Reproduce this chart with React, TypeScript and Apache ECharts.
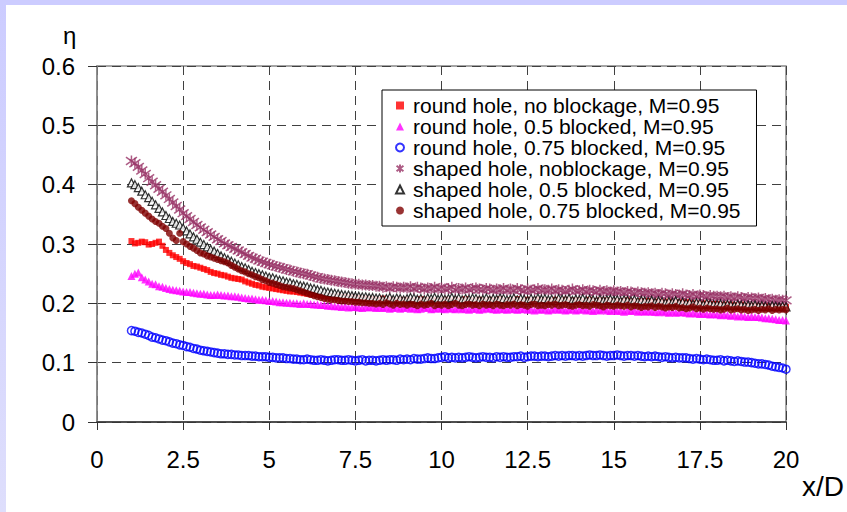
import React, { useEffect, useRef } from "react";
import * as echarts from "echarts";

const xPositions = [
  1.0, 1.1, 1.2, 1.3, 1.4, 1.5, 1.6, 1.7, 1.8, 1.9,
  2.0, 2.1, 2.2, 2.3, 2.4, 2.5, 2.6, 2.7, 2.8, 2.9,
  3.0, 3.1, 3.2, 3.3, 3.4, 3.5, 3.6, 3.7, 3.8, 3.9,
  4.0, 4.1, 4.2, 4.3, 4.4, 4.5, 4.6, 4.7, 4.8, 4.9,
  5.0, 5.1, 5.2, 5.3, 5.4, 5.5, 5.6, 5.7, 5.8, 5.9,
  6.0, 6.1, 6.2, 6.3, 6.4, 6.5, 6.6, 6.7, 6.8, 6.9,
  7.0, 7.1, 7.2, 7.3, 7.4, 7.5, 7.6, 7.7, 7.8, 7.9,
  8.0, 8.1, 8.2, 8.3, 8.4, 8.5, 8.6, 8.7, 8.8, 8.9,
  9.0, 9.1, 9.2, 9.3, 9.4, 9.5, 9.6, 9.7, 9.8, 9.9,
  10.0, 10.1, 10.2, 10.3, 10.4, 10.5, 10.6, 10.7, 10.8, 10.9,
  11.0, 11.1, 11.2, 11.3, 11.4, 11.5, 11.6, 11.7, 11.8, 11.9,
  12.0, 12.1, 12.2, 12.3, 12.4, 12.5, 12.6, 12.7, 12.8, 12.9,
  13.0, 13.1, 13.2, 13.3, 13.4, 13.5, 13.6, 13.7, 13.8, 13.9,
  14.0, 14.1, 14.2, 14.3, 14.4, 14.5, 14.6, 14.7, 14.8, 14.9,
  15.0, 15.1, 15.2, 15.3, 15.4, 15.5, 15.6, 15.7, 15.8, 15.9,
  16.0, 16.1, 16.2, 16.3, 16.4, 16.5, 16.6, 16.7, 16.8, 16.9,
  17.0, 17.1, 17.2, 17.3, 17.4, 17.5, 17.6, 17.7, 17.8, 17.9,
  18.0, 18.1, 18.2, 18.3, 18.4, 18.5, 18.6, 18.7, 18.8, 18.9,
  19.0, 19.1, 19.2, 19.3, 19.4, 19.5, 19.6, 19.7, 19.8, 19.9,
  20.0,
];

const roundNoBlockage = [
  0.305, 0.301, 0.302, 0.304, 0.303, 0.299, 0.300, 0.302, 0.304, 0.297,
  0.290, 0.285, 0.281, 0.278, 0.275, 0.271, 0.268, 0.266, 0.263, 0.262,
  0.260, 0.258, 0.256, 0.253, 0.251, 0.250, 0.248, 0.247, 0.245, 0.243,
  0.242, 0.241, 0.240, 0.237, 0.235, 0.233, 0.231, 0.230, 0.228, 0.227,
  0.226, 0.225, 0.224, 0.223, 0.222, 0.221, 0.220, 0.220, 0.219, 0.218,
  0.217, 0.216, 0.215, 0.215, 0.214, 0.213, 0.213, 0.212, 0.212, 0.211,
  0.212, 0.210, 0.211, 0.209, 0.210, 0.208, 0.209, 0.207, 0.208, 0.206,
  0.207, 0.205, 0.206, 0.208, 0.204, 0.206, 0.205, 0.203, 0.206, 0.204,
  0.206, 0.204, 0.205, 0.203, 0.207, 0.204, 0.206, 0.203, 0.205, 0.204,
  0.204, 0.206, 0.205, 0.203, 0.206, 0.204, 0.205, 0.207, 0.203, 0.205,
  0.204, 0.206, 0.205, 0.203, 0.206, 0.204, 0.205, 0.207, 0.204, 0.203,
  0.205, 0.204, 0.207, 0.203, 0.204, 0.206, 0.203, 0.205, 0.206, 0.204,
  0.205, 0.203, 0.204, 0.206, 0.203, 0.204, 0.206, 0.203, 0.205, 0.204,
  0.205, 0.203, 0.204, 0.206, 0.204, 0.202, 0.205, 0.203, 0.205, 0.202,
  0.204, 0.203, 0.202, 0.204, 0.205, 0.203, 0.203, 0.201, 0.204, 0.202,
  0.204, 0.202, 0.201, 0.203, 0.202, 0.200, 0.203, 0.201, 0.200, 0.202,
  0.200, 0.202, 0.201, 0.199, 0.200, 0.198, 0.200, 0.199, 0.198, 0.199,
  0.199, 0.197, 0.198, 0.197, 0.198, 0.196, 0.197, 0.198, 0.196, 0.195,
  0.195, 0.196, 0.195, 0.194, 0.196, 0.194, 0.195, 0.193, 0.194, 0.193,
  0.194,
];

const roundHalfBlocked = [
  0.246, 0.250, 0.252, 0.244, 0.240, 0.237, 0.233, 0.232, 0.229, 0.228,
  0.226, 0.224, 0.223, 0.222, 0.221, 0.220, 0.219, 0.219, 0.218, 0.217,
  0.216, 0.216, 0.215, 0.214, 0.214, 0.215, 0.214, 0.213, 0.213, 0.212,
  0.212, 0.211, 0.210, 0.209, 0.208, 0.208, 0.207, 0.206, 0.206, 0.205,
  0.204, 0.204, 0.203, 0.202, 0.202, 0.201, 0.201, 0.200, 0.200, 0.199,
  0.200, 0.199, 0.199, 0.198, 0.198, 0.197, 0.197, 0.196, 0.196, 0.195,
  0.195, 0.194, 0.195, 0.193, 0.194, 0.194, 0.193, 0.192, 0.194, 0.193,
  0.194, 0.192, 0.193, 0.192, 0.193, 0.191, 0.192, 0.193, 0.191, 0.192,
  0.193, 0.191, 0.192, 0.190, 0.191, 0.193, 0.192, 0.190, 0.191, 0.192,
  0.191, 0.190, 0.192, 0.191, 0.190, 0.192, 0.190, 0.191, 0.189, 0.191,
  0.191, 0.189, 0.190, 0.192, 0.191, 0.190, 0.189, 0.191, 0.190, 0.189,
  0.191, 0.190, 0.189, 0.190, 0.191, 0.189, 0.190, 0.188, 0.190, 0.189,
  0.190, 0.188, 0.189, 0.191, 0.189, 0.190, 0.188, 0.189, 0.190, 0.188,
  0.189, 0.190, 0.188, 0.189, 0.187, 0.189, 0.188, 0.190, 0.188, 0.187,
  0.189, 0.187, 0.188, 0.186, 0.188, 0.187, 0.188, 0.186, 0.187, 0.186,
  0.187, 0.186, 0.186, 0.185, 0.187, 0.185, 0.184, 0.186, 0.184, 0.185,
  0.185, 0.184, 0.183, 0.184, 0.183, 0.182, 0.183, 0.182, 0.181, 0.182,
  0.181, 0.180, 0.181, 0.180, 0.179, 0.180, 0.178, 0.179, 0.178, 0.177,
  0.178, 0.177, 0.177, 0.176, 0.175, 0.175, 0.174, 0.173, 0.172, 0.172,
  0.171,
];

const roundThreeQuarterBlocked = [
  0.154, 0.153, 0.151, 0.150, 0.148, 0.146, 0.143, 0.142, 0.140, 0.138,
  0.137, 0.135, 0.133, 0.132, 0.130, 0.129, 0.127, 0.126, 0.124, 0.123,
  0.121, 0.120, 0.119, 0.118, 0.117, 0.116, 0.115, 0.115, 0.114, 0.114,
  0.113, 0.113, 0.112, 0.112, 0.112, 0.111, 0.111, 0.110, 0.110, 0.110,
  0.109, 0.109, 0.108, 0.108, 0.108, 0.107, 0.107, 0.106, 0.106, 0.105,
  0.105, 0.106, 0.105, 0.104, 0.104, 0.105, 0.104, 0.103, 0.104, 0.105,
  0.105, 0.104, 0.104, 0.105, 0.104, 0.103, 0.104, 0.105, 0.103, 0.104,
  0.104, 0.103, 0.104, 0.105, 0.104, 0.105, 0.105, 0.104, 0.106, 0.105,
  0.106, 0.105, 0.107, 0.106, 0.106, 0.107, 0.108, 0.107, 0.107, 0.108,
  0.109, 0.110, 0.108, 0.109, 0.108, 0.109, 0.108, 0.109, 0.110, 0.109,
  0.108, 0.109, 0.110, 0.109, 0.109, 0.108, 0.110, 0.109, 0.110, 0.109,
  0.109, 0.110, 0.110, 0.111, 0.109, 0.110, 0.111, 0.111, 0.110, 0.111,
  0.111, 0.110, 0.111, 0.112, 0.111, 0.112, 0.111, 0.112, 0.112, 0.111,
  0.112, 0.111, 0.112, 0.113, 0.112, 0.112, 0.113, 0.112, 0.111, 0.112,
  0.112, 0.113, 0.112, 0.111, 0.112, 0.112, 0.111, 0.112, 0.111, 0.110,
  0.111, 0.110, 0.111, 0.110, 0.109, 0.110, 0.109, 0.108, 0.109, 0.108,
  0.108, 0.108, 0.107, 0.106, 0.107, 0.106, 0.105, 0.106, 0.105, 0.104,
  0.104, 0.105, 0.103, 0.104, 0.103, 0.102, 0.103, 0.102, 0.101, 0.101,
  0.100, 0.099, 0.098, 0.098, 0.097, 0.096, 0.094, 0.093, 0.092, 0.091,
  0.089,
];

const shapedNoBlockage = [
  0.440, 0.436, 0.430, 0.424, 0.418, 0.411, 0.405, 0.399, 0.393, 0.388,
  0.382, 0.376, 0.370, 0.364, 0.358, 0.352, 0.347, 0.342, 0.337, 0.332,
  0.328, 0.324, 0.320, 0.316, 0.312, 0.308, 0.305, 0.301, 0.298, 0.295,
  0.292, 0.289, 0.286, 0.283, 0.280, 0.277, 0.275, 0.272, 0.270, 0.268,
  0.266, 0.264, 0.262, 0.261, 0.259, 0.257, 0.256, 0.254, 0.253, 0.251,
  0.250, 0.249, 0.247, 0.245, 0.244, 0.242, 0.241, 0.240, 0.239, 0.238,
  0.237, 0.236, 0.235, 0.234, 0.233, 0.232, 0.232, 0.231, 0.231, 0.230,
  0.230, 0.229, 0.229, 0.227, 0.228, 0.226, 0.228, 0.227, 0.226, 0.227,
  0.226, 0.228, 0.225, 0.227, 0.226, 0.224, 0.226, 0.225, 0.227, 0.224,
  0.226, 0.224, 0.225, 0.227, 0.223, 0.225, 0.224, 0.226, 0.223, 0.225,
  0.226, 0.224, 0.223, 0.225, 0.224, 0.222, 0.224, 0.223, 0.225, 0.222,
  0.224, 0.222, 0.225, 0.223, 0.221, 0.224, 0.222, 0.223, 0.225, 0.222,
  0.223, 0.222, 0.224, 0.221, 0.223, 0.222, 0.220, 0.222, 0.224, 0.221,
  0.221, 0.223, 0.220, 0.222, 0.221, 0.219, 0.222, 0.220, 0.221, 0.219,
  0.221, 0.219, 0.220, 0.218, 0.220, 0.219, 0.217, 0.219, 0.218, 0.217,
  0.218, 0.216, 0.217, 0.215, 0.217, 0.216, 0.214, 0.216, 0.215, 0.214,
  0.216, 0.214, 0.213, 0.215, 0.212, 0.214, 0.213, 0.211, 0.213, 0.212,
  0.212, 0.211, 0.212, 0.210, 0.211, 0.209, 0.211, 0.210, 0.208, 0.210,
  0.209, 0.208, 0.209, 0.207, 0.208, 0.206, 0.207, 0.205, 0.206, 0.205,
  0.205,
];

const shapedHalfBlocked = [
  0.403, 0.400, 0.395, 0.389, 0.383, 0.378, 0.372, 0.366, 0.360, 0.354,
  0.348, 0.343, 0.338, 0.335, 0.332, 0.327, 0.322, 0.317, 0.312, 0.308,
  0.303, 0.299, 0.295, 0.291, 0.288, 0.284, 0.280, 0.277, 0.274, 0.271,
  0.268, 0.265, 0.262, 0.260, 0.257, 0.254, 0.252, 0.250, 0.248, 0.246,
  0.244, 0.243, 0.241, 0.239, 0.238, 0.236, 0.235, 0.233, 0.232, 0.230,
  0.229, 0.228, 0.226, 0.225, 0.223, 0.222, 0.220, 0.219, 0.218, 0.217,
  0.216, 0.215, 0.214, 0.214, 0.213, 0.212, 0.212, 0.211, 0.211, 0.210,
  0.210, 0.209, 0.209, 0.207, 0.208, 0.210, 0.207, 0.209, 0.208, 0.206,
  0.208, 0.210, 0.209, 0.207, 0.208, 0.206, 0.209, 0.208, 0.210, 0.207,
  0.209, 0.207, 0.208, 0.210, 0.207, 0.209, 0.206, 0.208, 0.207, 0.209,
  0.208, 0.206, 0.207, 0.209, 0.206, 0.208, 0.207, 0.209, 0.208, 0.206,
  0.207, 0.209, 0.206, 0.208, 0.207, 0.205, 0.208, 0.206, 0.209, 0.207,
  0.208, 0.206, 0.207, 0.205, 0.208, 0.207, 0.206, 0.208, 0.205, 0.207,
  0.206, 0.208, 0.205, 0.207, 0.206, 0.204, 0.207, 0.205, 0.206, 0.207,
  0.205, 0.206, 0.204, 0.206, 0.205, 0.204, 0.206, 0.203, 0.205, 0.204,
  0.203, 0.205, 0.202, 0.204, 0.203, 0.201, 0.203, 0.202, 0.204, 0.201,
  0.202, 0.200, 0.201, 0.199, 0.201, 0.200, 0.198, 0.200, 0.199, 0.198,
  0.198, 0.199, 0.197, 0.198, 0.197, 0.196, 0.198, 0.197, 0.196, 0.197,
  0.196, 0.197, 0.195, 0.196, 0.195, 0.194, 0.196, 0.195, 0.194, 0.195,
  0.194,
];

const shapedThreeQuarterBlocked = [
  0.373, 0.368, 0.362, 0.357, 0.352, 0.347, 0.342, 0.338, 0.335, 0.330,
  0.326, 0.318, 0.310, 0.306, 0.318, 0.304, 0.300, 0.296, 0.293, 0.289,
  0.285, 0.283, 0.280, 0.278, 0.276, 0.274, 0.272, 0.270, 0.268, 0.264,
  0.261, 0.258, 0.255, 0.253, 0.250, 0.248, 0.245, 0.243, 0.240, 0.238,
  0.235, 0.234, 0.232, 0.230, 0.228, 0.227, 0.226, 0.225, 0.223, 0.221,
  0.219, 0.217, 0.215, 0.213, 0.211, 0.210, 0.208, 0.207, 0.206, 0.206,
  0.205, 0.204, 0.204, 0.203, 0.203, 0.202, 0.202, 0.201, 0.201, 0.200,
  0.200, 0.199, 0.200, 0.198, 0.201, 0.199, 0.197, 0.200, 0.198, 0.199,
  0.197, 0.199, 0.198, 0.196, 0.199, 0.197, 0.198, 0.200, 0.196, 0.198,
  0.197, 0.199, 0.196, 0.198, 0.200, 0.197, 0.196, 0.198, 0.199, 0.197,
  0.198, 0.196, 0.199, 0.197, 0.198, 0.196, 0.199, 0.197, 0.196, 0.198,
  0.197, 0.199, 0.196, 0.198, 0.197, 0.195, 0.198, 0.199, 0.196, 0.197,
  0.196, 0.198, 0.197, 0.199, 0.196, 0.197, 0.198, 0.196, 0.195, 0.197,
  0.198, 0.196, 0.197, 0.195, 0.198, 0.197, 0.196, 0.194, 0.197, 0.196,
  0.195, 0.197, 0.196, 0.195, 0.197, 0.194, 0.196, 0.195, 0.193, 0.195,
  0.194, 0.196, 0.193, 0.195, 0.194, 0.192, 0.194, 0.193, 0.195, 0.192,
  0.193, 0.191, 0.192, 0.194, 0.191, 0.192, 0.190, 0.192, 0.191, 0.190,
  0.191, 0.189, 0.190, 0.192, 0.189, 0.190, 0.191, 0.189, 0.190, 0.188,
  0.189, 0.190, 0.188, 0.190, 0.189, 0.191, 0.188, 0.190, 0.189, 0.190,
  0.189,
];

const seriesNames = [
  "round hole, no blockage, M=0.95",
  "round hole, 0.5 blocked, M=0.95",
  "round hole, 0.75 blocked, M=0.95",
  "shaped hole, noblockage, M=0.95",
  "shaped hole, 0.5 blocked, M=0.95",
  "shaped hole, 0.75 blocked, M=0.95",
];

const FONT = "'Liberation Sans', Arial, sans-serif";
const STAR = "path://M5,0 L5,10 M0.7,1.5 L9.3,8.5 M0.7,8.5 L9.3,1.5";

function pairs(ys: number[]) {
  return ys.map((y, i) => [xPositions[i], y]);
}

export default function App() {
  const ref = useRef<HTMLDivElement>(null);

  useEffect(() => {
    if (!ref.current) return;
    const chart = echarts.init(ref.current, undefined, { renderer: "svg" });
    const option: any = {
      animation: false,
      backgroundColor: "#ffffff",
      textStyle: { fontFamily: FONT },
      graphic: [
        { type: "rect", shape: { x: 0, y: 0, width: 847, height: 5 }, style: { fill: "#ccccff" }, z: 0 },
        {
          type: "rect",
          shape: { x: 0, y: 0, width: 6, height: 512 },
          style: {
            fill: new echarts.graphic.LinearGradient(0, 0, 0, 1, [
              { offset: 0, color: "#ccccff" },
              { offset: 1, color: "#dedefc" },
            ]),
          },
          z: 0,
        },
        {
          type: "text",
          left: 63,
          top: 23,
          style: { text: "η", font: `24px ${FONT}`, fill: "#000" },
        },
        {
          type: "text",
          left: 802,
          top: 472,
          style: { text: "x/D", font: `28px ${FONT}`, fill: "#000" },
        },
      ],
      grid: {
        left: 97,
        top: 66,
        width: 689,
        height: 356,
        show: true,
        borderColor: "#888888",
        borderWidth: 1.5,
        backgroundColor: "transparent",
      },
      legend: {
        orient: "vertical",
        left: 382,
        top: 90,
        itemGap: 0,
        itemWidth: 8,
        itemHeight: 8,
        padding: [5, 16, 5, 13],
        backgroundColor: "#ffffff",
        borderColor: "#000000",
        borderWidth: 1,
        textStyle: {
          fontSize: 21,
          lineHeight: 20,
          color: "#000",
          fontFamily: FONT,
          padding: [0, 0, 0, 4],
        },
        data: seriesNames,
      },
      xAxis: {
        type: "value",
        min: 0,
        max: 20,
        interval: 2.5,
        axisLine: { show: true, lineStyle: { color: "#333333", width: 1.5 } },
        axisTick: { show: true, length: 8, lineStyle: { color: "#333333" } },
        axisLabel: { fontSize: 24, margin: 25, color: "#000", fontFamily: FONT },
        splitLine: { show: true, lineStyle: { color: "#404040", type: [9, 6], width: 1 } },
      },
      yAxis: {
        type: "value",
        min: 0,
        max: 0.6,
        interval: 0.1,
        axisLine: { show: true, lineStyle: { color: "#888888", width: 1.5 } },
        axisTick: { show: true, length: 9, lineStyle: { color: "#333333" } },
        axisLabel: { fontSize: 24, margin: 22, color: "#000", fontFamily: FONT },
        splitLine: { show: true, lineStyle: { color: "#404040", type: [9, 6], width: 1 } },
      },
      series: [
        {
          name: seriesNames[0],
          type: "scatter",
          symbol: "rect",
          symbolSize: 6,
          itemStyle: { color: "#ff0000" },
          data: pairs(roundNoBlockage),
        },
        {
          name: seriesNames[1],
          type: "scatter",
          symbol: "triangle",
          symbolSize: 8,
          itemStyle: { color: "#ff00ff" },
          data: pairs(roundHalfBlocked),
        },
        {
          name: seriesNames[2],
          type: "scatter",
          symbol: "circle",
          symbolSize: 8,
          itemStyle: { color: "rgba(255,255,255,0)", borderColor: "#0000ff", borderWidth: 1.5 },
          data: pairs(roundThreeQuarterBlocked),
        },
        {
          name: seriesNames[3],
          type: "scatter",
          symbol: STAR,
          symbolSize: 11,
          itemStyle: { color: "#993366", borderColor: "#993366", borderWidth: 1.5 },
          data: pairs(shapedNoBlockage),
        },
        {
          name: seriesNames[4],
          type: "scatter",
          symbol: "triangle",
          symbolSize: 8,
          itemStyle: { color: "#ffffff", borderColor: "#000000", borderWidth: 1.2 },
          data: pairs(shapedHalfBlocked),
        },
        {
          name: seriesNames[5],
          type: "scatter",
          symbol: "circle",
          symbolSize: 7,
          itemStyle: { color: "#800000" },
          data: pairs(shapedThreeQuarterBlocked),
        },
      ],
    };
    chart.setOption(option);
    return () => chart.dispose();
  }, []);

  return (
    <div
      ref={ref}
      style={{ position: "fixed", left: 0, top: 0, width: 847, height: 512 }}
    />
  );
}
